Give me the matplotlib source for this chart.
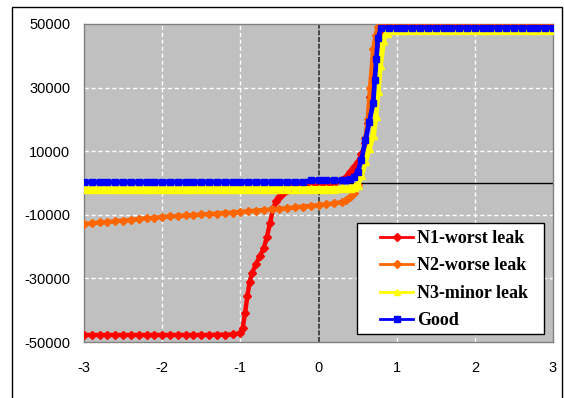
import matplotlib
matplotlib.use("Agg")
import matplotlib.pyplot as plt
from matplotlib.patches import Rectangle

# ---------------- data ----------------
n1_x = [-3.0, -2.9, -2.8, -2.7, -2.6, -2.5, -2.4, -2.3, -2.2, -2.1, -2.0, -1.9, -1.8, -1.7, -1.6,
        -1.5, -1.4, -1.3, -1.2, -1.1, -1.0, -0.97, -0.94, -0.91, -0.88, -0.85, -0.8, -0.75, -0.7,
        -0.66, -0.62, -0.58, -0.54, -0.5, -0.45, -0.4, -0.35, -0.3, -0.2, -0.1, 0.0, 0.1, 0.2, 0.3,
        0.35, 0.4, 0.45, 0.5, 0.55, 0.6, 0.63, 0.66, 0.7, 0.73, 0.75, 0.77, 0.8, 0.9, 1.0, 1.1, 1.2,
        1.3, 1.4, 1.5, 1.6, 1.7, 1.8, 1.9, 2.0, 2.1, 2.2, 2.3, 2.4, 2.5, 2.6, 2.7, 2.8, 2.9, 3.0]
n1_y = [-47800, -47800, -47800, -47800, -47800, -47800, -47800, -47800, -47800, -47800, -47800,
        -47800, -47800, -47800, -47800, -47800, -47800, -47700, -47700, -47600, -47300, -45500,
        -41000, -35500, -31000, -28300, -25500, -23000, -20500, -17000, -12500, -8000, -5600,
        -4300, -3000, -2200, -1600, -1200, -900, -700, -500, -300, 0, 800, 1800, 3500, 5000, 6500,
        9000, 12500, 19000, 27000, 33300, 39000, 43400, 47500, 49300, 49300, 49300, 49300, 49300,
        49300, 49300, 49300, 49300, 49300, 49300, 49300, 49300, 49300, 49300, 49300, 49300, 49300,
        49300, 49300, 49300, 49300, 49300]

n2_x = [-3.0, -2.9, -2.8, -2.7, -2.6, -2.5, -2.4, -2.3, -2.2, -2.1, -2.0, -1.9, -1.8, -1.7, -1.6,
        -1.5, -1.4, -1.3, -1.2, -1.1, -1.0, -0.9, -0.8, -0.7, -0.6, -0.5, -0.4, -0.3, -0.2, -0.1,
        0.0, 0.1, 0.2, 0.3, 0.35, 0.4, 0.45, 0.5, 0.53, 0.56, 0.6, 0.63, 0.66, 0.7, 0.73, 0.76,
        0.8, 0.9, 1.0, 1.1, 1.2, 1.3, 1.4, 1.5, 1.6, 1.7, 1.8, 1.9, 2.0, 2.1, 2.2, 2.3, 2.4, 2.5,
        2.6, 2.7, 2.8, 2.9, 3.0]
n2_y = [-12900, -12700, -12400, -12300, -12000, -11800, -11600, -11300, -11100, -10900, -10700,
        -10500, -10400, -10200, -10100, -9900, -9800, -9600, -9400, -9300, -9100, -8900, -8700,
        -8500, -8300, -8100, -7900, -7700, -7400, -7200, -7000, -6700, -6400, -6000, -5300, -4500,
        -3000, -500, 3000, 8000, 14000, 20000, 30000, 42000, 46500, 49000, 49200, 49200, 49200,
        49200, 49200, 49200, 49200, 49200, 49200, 49200, 49200, 49200, 49200, 49200, 49200, 49200,
        49200, 49200, 49200, 49200, 49200, 49200, 49200]

n3_x = [-3.0, -2.9, -2.8, -2.7, -2.6, -2.5, -2.4, -2.3, -2.2, -2.1, -2.0, -1.9, -1.8, -1.7, -1.6,
        -1.5, -1.4, -1.3, -1.2, -1.1, -1.0, -0.9, -0.8, -0.7, -0.6, -0.5, -0.4, -0.3, -0.2, -0.1,
        0.0, 0.1, 0.2, 0.3, 0.4, 0.45, 0.5, 0.55, 0.6, 0.65, 0.7, 0.73, 0.76, 0.79, 0.83, 0.87,
        0.92, 1.0, 1.1, 1.2, 1.3, 1.4, 1.5, 1.6, 1.7, 1.8, 1.9, 2.0, 2.1, 2.2, 2.3, 2.4, 2.5, 2.6,
        2.7, 2.8, 2.9, 3.0]
n3_y = [-1900, -1900, -1900, -1900, -1900, -1900, -1900, -1900, -1900, -1900, -1900, -1900, -1900,
        -1900, -1800, -1800, -1800, -1800, -1800, -1800, -1800, -1800, -1800, -1800, -1800, -1800,
        -1800, -1800, -1800, -1800, -1800, -1800, -1800, -1700, -1600, -1400, -600, 2500, 7000,
        11000, 15100, 21000, 29000, 37000, 45000, 47300, 48000, 48000, 48000, 48000, 48000, 48000,
        48000, 48000, 48000, 48000, 48000, 48000, 48000, 48000, 48000, 48000, 48000, 48000, 48000,
        48000, 48000, 48000]

good_x = [-3.0, -2.9, -2.8, -2.7, -2.6, -2.5, -2.4, -2.3, -2.2, -2.1, -2.0, -1.9, -1.8, -1.7, -1.6,
          -1.5, -1.4, -1.3, -1.2, -1.1, -1.0, -0.9, -0.8, -0.7, -0.6, -0.5, -0.4, -0.3, -0.2, -0.1,
          0.0, 0.1, 0.2, 0.3, 0.35, 0.4, 0.45, 0.5, 0.55, 0.6, 0.65, 0.7, 0.72, 0.74, 0.76, 0.8,
          0.9, 1.0, 1.1, 1.2, 1.3, 1.4, 1.5, 1.6, 1.7, 1.8, 1.9, 2.0, 2.1, 2.2, 2.3, 2.4, 2.5, 2.6,
          2.7, 2.8, 2.9, 3.0]
good_y = [300, 300, 300, 300, 300, 300, 300, 300, 300, 300, 300, 300, 300, 300, 300, 300, 300, 300,
          300, 300, 300, 300, 300, 300, 300, 300, 300, 300, 300, 800, 800, 800, 800, 800, 1000, 1300,
          1800, 3500, 7200, 13500, 19200, 25200, 32400, 39000, 45500, 48800, 48800, 48800, 48800,
          48800, 48800, 48800, 48800, 48800, 48800, 48800, 48800, 48800, 48800, 48800, 48800, 48800,
          48800, 48800, 48800, 48800, 48800, 48800]

y_ticks = [-50000, -30000, -10000, 10000, 30000, 50000]
x_ticks = [-3, -2, -1, 0, 1, 2, 3]

# ---------------- figure ----------------
fig = plt.figure(figsize=(5.64, 3.98), dpi=100)
ax = fig.add_axes([84 / 564, 1 - 342 / 398, 469 / 564, 318 / 398])
ax.set_facecolor("#C0C0C0")

# outer frame of the chart object
fig.patches.append(Rectangle((12 / 564, -0.05), 550 / 564, 1.05 - 7 / 398,
                             transform=fig.transFigure, fill=False, edgecolor="black", lw=1))

# grid
for gx in [-2, -1, 1, 2]:
    ax.axvline(gx, color="white", lw=1, ls=(0, (3, 2)), zorder=1)
for gy in [-30000, -10000, 10000, 30000]:
    ax.axhline(gy, color="white", lw=1, ls=(0, (3, 2)), zorder=1)
ax.axvline(0, color="#303030", lw=1.2, ls=(0, (3, 1)), zorder=1)
ax.axhline(0, color="black", lw=1, zorder=1)

ax.plot(n1_x, n1_y, color="#FF0000", lw=3.2, marker="D", ms=4, label="N1-worst leak", zorder=3)
ax.plot(n2_x, n2_y, color="#FF6600", lw=3.2, marker="D", ms=4, label="N2-worse leak", zorder=3)
ax.plot(n3_x, n3_y, color="#FFFF00", lw=4, marker="^", ms=5.5, label="N3-minor leak", zorder=3)
ax.plot(good_x, good_y, color="#0000FF", lw=3.4, marker="s", ms=4, label="Good", zorder=3)

ax.set_xlim(-3, 3)
ax.set_ylim(-50000, 50000)
ax.set_xticks(x_ticks)
ax.set_yticks(y_ticks)
ax.set_xticklabels([str(t) for t in x_ticks], family="Liberation Sans", fontsize=10.5)
ax.set_yticklabels([str(t) for t in y_ticks], family="Liberation Sans", fontsize=10.5)
ax.tick_params(axis="y", length=0, pad=10)
ax.tick_params(axis="x", length=0, pad=14)
for s in ax.spines.values():
    s.set_color("#808080")
    s.set_linewidth(1)

# legend box drawn separately, legend entries placed inside it
ax.add_patch(Rectangle((357 / 564, 1 - 334 / 398), 187 / 564, 111 / 398,
                       transform=fig.transFigure, facecolor="white", edgecolor="black",
                       lw=1, zorder=4, clip_on=False))
leg = ax.legend(loc="upper left", bbox_to_anchor=(380 / 564, 1 - 230 / 398),
                bbox_transform=fig.transFigure, borderaxespad=0, borderpad=0,
                frameon=False, handlelength=1.85, handletextpad=0.2, labelspacing=0.58,
                prop={"family": "Liberation Serif", "weight": "bold", "size": 13})
leg.set_zorder(5)
for h in leg.get_lines():
    h.set_linewidth(2)
    h.set_markersize(4)

fig.savefig("out.png", dpi=100)
